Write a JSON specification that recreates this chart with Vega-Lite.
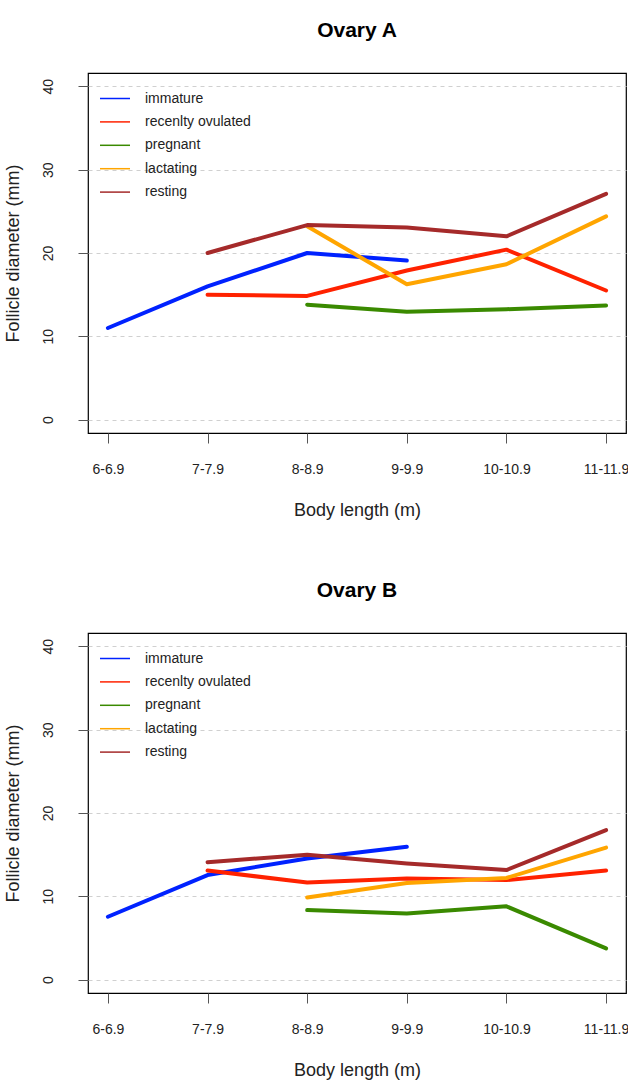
{
  "$schema": "https://vega.github.io/schema/vega-lite/v6.json",
  "padding": {"left": 3, "top": 19, "right": 0, "bottom": 0},
  "background": "white",
  "spacing": 59,
  "config": {
    "font": "Liberation Sans",
    "view": {"stroke": "#000", "strokeWidth": 1.2},
    "title": {"fontSize": 21, "fontWeight": "bold", "anchor": "middle", "offset": 32, "color": "#000", "frame": "group"},
    "axisX": {"labelAngle": 0, "domain": false, "grid": false, "tickSize": 10, "tickColor": "#555", "labelFontSize": 14, "labelPadding": 19, "titleFontSize": 18, "titleFontWeight": "normal", "titlePadding": 25, "labelColor": "#222", "titleColor": "#222"},
    "axisY": {"domain": false, "grid": true, "gridDash": [4, 4], "gridColor": "#d0d0d0", "tickSize": 10, "tickColor": "#555", "labelAngle": -90, "labelAlign": "center", "labelBaseline": "bottom", "labelPadding": 23, "labelFontSize": 14, "titleFontSize": 18, "titleFontWeight": "normal", "titlePadding": 19, "labelColor": "#222", "titleColor": "#222"},
    "legend": {"orient": "none", "legendX": 11, "legendY": 9.5, "title": null, "symbolType": "stroke", "symbolSize": 900, "symbolStrokeWidth": 1.5, "labelFontSize": 14, "labelColor": "#222", "labelOffset": 14, "rowPadding": 0.4, "padding": 0}
  },
  "data": {
    "values": [
      {"panel": "A", "length": "6-6.9", "status": "immature", "d": 11.0},
      {"panel": "A", "length": "7-7.9", "status": "immature", "d": 16.0},
      {"panel": "A", "length": "8-8.9", "status": "immature", "d": 20.0},
      {"panel": "A", "length": "9-9.9", "status": "immature", "d": 19.1},
      {"panel": "A", "length": "7-7.9", "status": "recenlty ovulated", "d": 15.0},
      {"panel": "A", "length": "8-8.9", "status": "recenlty ovulated", "d": 14.85},
      {"panel": "A", "length": "9-9.9", "status": "recenlty ovulated", "d": 17.9},
      {"panel": "A", "length": "10-10.9", "status": "recenlty ovulated", "d": 20.4},
      {"panel": "A", "length": "11-11.9", "status": "recenlty ovulated", "d": 15.5},
      {"panel": "A", "length": "8-8.9", "status": "pregnant", "d": 13.8},
      {"panel": "A", "length": "9-9.9", "status": "pregnant", "d": 12.95},
      {"panel": "A", "length": "10-10.9", "status": "pregnant", "d": 13.25},
      {"panel": "A", "length": "11-11.9", "status": "pregnant", "d": 13.7},
      {"panel": "A", "length": "8-8.9", "status": "lactating", "d": 23.2},
      {"panel": "A", "length": "9-9.9", "status": "lactating", "d": 16.25},
      {"panel": "A", "length": "10-10.9", "status": "lactating", "d": 18.65},
      {"panel": "A", "length": "11-11.9", "status": "lactating", "d": 24.4},
      {"panel": "A", "length": "7-7.9", "status": "resting", "d": 20.0},
      {"panel": "A", "length": "8-8.9", "status": "resting", "d": 23.35},
      {"panel": "A", "length": "9-9.9", "status": "resting", "d": 23.05},
      {"panel": "A", "length": "10-10.9", "status": "resting", "d": 22.0},
      {"panel": "A", "length": "11-11.9", "status": "resting", "d": 27.1},
      {"panel": "B", "length": "6-6.9", "status": "immature", "d": 7.55},
      {"panel": "B", "length": "7-7.9", "status": "immature", "d": 12.55},
      {"panel": "B", "length": "8-8.9", "status": "immature", "d": 14.55},
      {"panel": "B", "length": "9-9.9", "status": "immature", "d": 15.95},
      {"panel": "B", "length": "7-7.9", "status": "recenlty ovulated", "d": 13.1},
      {"panel": "B", "length": "8-8.9", "status": "recenlty ovulated", "d": 11.65},
      {"panel": "B", "length": "9-9.9", "status": "recenlty ovulated", "d": 12.15},
      {"panel": "B", "length": "10-10.9", "status": "recenlty ovulated", "d": 11.95},
      {"panel": "B", "length": "11-11.9", "status": "recenlty ovulated", "d": 13.1},
      {"panel": "B", "length": "8-8.9", "status": "pregnant", "d": 8.35},
      {"panel": "B", "length": "9-9.9", "status": "pregnant", "d": 7.95},
      {"panel": "B", "length": "10-10.9", "status": "pregnant", "d": 8.8},
      {"panel": "B", "length": "11-11.9", "status": "pregnant", "d": 3.75},
      {"panel": "B", "length": "8-8.9", "status": "lactating", "d": 9.85},
      {"panel": "B", "length": "9-9.9", "status": "lactating", "d": 11.6},
      {"panel": "B", "length": "10-10.9", "status": "lactating", "d": 12.2},
      {"panel": "B", "length": "11-11.9", "status": "lactating", "d": 15.85},
      {"panel": "B", "length": "7-7.9", "status": "resting", "d": 14.1},
      {"panel": "B", "length": "8-8.9", "status": "resting", "d": 15.0},
      {"panel": "B", "length": "9-9.9", "status": "resting", "d": 13.95},
      {"panel": "B", "length": "10-10.9", "status": "resting", "d": 13.15},
      {"panel": "B", "length": "11-11.9", "status": "resting", "d": 17.95}
    ]
  },
  "resolve": {"scale": {"color": "independent"}, "legend": {"color": "independent"}},
  "vconcat": [
    {
      "title": "Ovary A",
      "width": 538,
      "height": 360,
      "transform": [{"filter": "datum.panel === 'A'"}],
      "mark": {"type": "line", "strokeWidth": 4, "strokeCap": "round", "strokeJoin": "round"},
      "encoding": {
        "x": {"field": "length", "type": "ordinal", "title": "Body length (m)", "scale": {"type": "point", "padding": 0.2, "domain": ["6-6.9", "7-7.9", "8-8.9", "9-9.9", "10-10.9", "11-11.9"]}},
        "y": {"field": "d", "type": "quantitative", "title": "Follicle diameter (mm)", "scale": {"domain": [-1.6, 41.6], "nice": false, "zero": false}, "axis": {"values": [0, 10, 20, 30, 40]}},
        "color": {"field": "status", "type": "nominal", "scale": {"domain": ["immature", "recenlty ovulated", "pregnant", "lactating", "resting"], "range": ["#0022FF", "#FF2200", "#3A8A00", "#FFA500", "#A52A2A"]}}
      }
    },
    {
      "title": "Ovary B",
      "width": 538,
      "height": 360,
      "transform": [{"filter": "datum.panel === 'B'"}],
      "mark": {"type": "line", "strokeWidth": 4, "strokeCap": "round", "strokeJoin": "round"},
      "encoding": {
        "x": {"field": "length", "type": "ordinal", "title": "Body length (m)", "scale": {"type": "point", "padding": 0.2, "domain": ["6-6.9", "7-7.9", "8-8.9", "9-9.9", "10-10.9", "11-11.9"]}},
        "y": {"field": "d", "type": "quantitative", "title": "Follicle diameter (mm)", "scale": {"domain": [-1.6, 41.6], "nice": false, "zero": false}, "axis": {"values": [0, 10, 20, 30, 40]}},
        "color": {"field": "status", "type": "nominal", "scale": {"domain": ["immature", "recenlty ovulated", "pregnant", "lactating", "resting"], "range": ["#0022FF", "#FF2200", "#3A8A00", "#FFA500", "#A52A2A"]}}
      }
    }
  ]
}
